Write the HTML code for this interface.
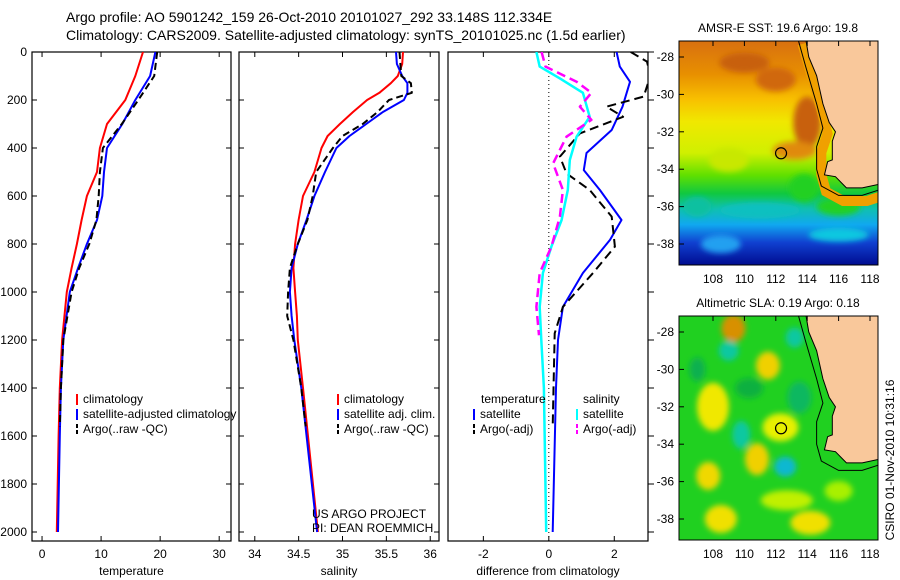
<!DOCTYPE html>
<html><head><meta charset="utf-8">
<style>
html,body{margin:0;padding:0;background:#fff;}
svg{display:block;font-family:"Liberation Sans",sans-serif;}
text{fill:#000;}
</style></head>
<body>
<svg id="fig" width="900" height="580" viewBox="0 0 900 580">
<defs>
<clipPath id="c1"><rect x="32" y="52" width="199" height="489"/></clipPath>
<clipPath id="c2"><rect x="239" y="52" width="200" height="489"/></clipPath>
<clipPath id="c3"><rect x="448" y="52" width="200" height="489"/></clipPath>
<clipPath id="cm1"><rect x="679" y="41" width="199" height="224"/></clipPath>
<clipPath id="cm2"><rect x="679" y="316" width="199" height="224"/></clipPath>
<linearGradient id="sstg" x1="0" y1="0" x2="0" y2="1">
<stop offset="0" stop-color="#d87010"/>
<stop offset="0.15" stop-color="#e89000"/>
<stop offset="0.26" stop-color="#f8c000"/>
<stop offset="0.36" stop-color="#f0e800"/>
<stop offset="0.5" stop-color="#d0f000"/>
<stop offset="0.6" stop-color="#60e000"/>
<stop offset="0.68" stop-color="#10c840"/>
<stop offset="0.75" stop-color="#10c0b0"/>
<stop offset="0.82" stop-color="#10a8f0"/>
<stop offset="0.9" stop-color="#1040d0"/>
<stop offset="1" stop-color="#000c90"/>
</linearGradient>
<filter id="blur"><feGaussianBlur stdDeviation="3"/></filter>
</defs>
<text x="66" y="22" font-size="14">Argo profile: AO 5901242_159 26-Oct-2010 20101027_292 33.148S 112.334E</text>
<text x="66" y="40" font-size="14">Climatology: CARS2009. Satellite-adjusted climatology: synTS_20101025.nc (1.5d earlier)</text>
<g id="panels"></g>
<g id="maps"></g>
</svg>
<script>
// ---- data ----
const depths = [0,100,200,300,400,500,600,700,800,900,1000,1200,1400,1600,2000];
const tClim = [17.1,15.8,14.1,11.0,9.8,9.3,7.6,6.7,5.9,5.0,4.2,3.4,3.0,2.8,2.5];
const tSat  = [19.2,18.3,15.8,13.6,11.0,10.5,10.2,9.3,7.6,6.1,4.7,3.6,3.2,3.0,2.7];
const tArgoDepths = [0,100,200,300,400,500,600,700,800,900,1000,1200,1400,1560];
const tArgo = [19.5,19.0,16.3,13.5,10.3,9.8,9.6,9.2,8.0,6.3,5.0,3.6,3.2,3.0];
const sDepths = [0,50,100,130,170,200,250,300,350,400,500,600,700,800,900,1000,1100,1200,1400,2000];
const sClim = [35.69,35.68,35.63,35.55,35.42,35.28,35.12,34.97,34.83,34.76,34.68,34.55,34.50,34.46,34.44,34.46,34.48,34.49,34.55,34.72];
const sSat  = [35.61,35.62,35.68,35.74,35.74,35.70,35.46,35.27,35.08,34.93,34.80,34.68,34.59,34.49,34.42,34.40,34.42,34.45,34.53,34.71];
const sArgoDepths = [0,50,100,130,170,200,250,300,350,400,500,600,700,800,900,1000,1100,1200,1400,1560];
const sArgo = [35.65,35.66,35.67,35.78,35.79,35.53,35.40,35.23,35.00,34.89,34.70,34.66,34.60,34.49,34.40,34.38,34.37,34.44,34.53,34.58];
const dtDepths = [0,61,124,228,325,421,492,575,700,783,921,1062,1200,1400,2000];
const dtSat = [2.07,2.17,2.48,2.25,1.92,1.15,1.07,1.56,2.22,1.87,1.04,0.43,0.28,0.22,0.12];
const dtArgoDepths = [0,40,100,186,228,270,339,436,506,575,686,811,921,1062,1172,1560];
const dtArgo = [2.5,3.0,3.1,2.9,1.76,2.27,0.95,0.34,0.54,1.25,1.92,2.02,1.35,0.43,0.18,0.12];
const dsDepths = [0,61,110,170,270,353,450,575,700,811,921,1062,1200,1400,2000];
const dsSat = [-0.38,-0.28,0.34,1.04,1.25,0.85,0.64,0.58,0.39,0.08,-0.18,-0.28,-0.23,-0.15,-0.08];
const dsArgoDepths = [0,61,124,170,228,283,353,464,575,686,811,921,1062,1180];
const dsArgo = [-0.22,-0.1,0.85,1.3,0.95,1.3,0.54,0.13,0.43,0.34,0.08,-0.28,-0.38,-0.3];
const yTicks = [0,200,400,600,800,1000,1200,1400,1600,1800,2000];
const tTicks = [0,10,20,30];
const sTicks = [34,34.5,35,35.5,36];
const sTickLabels = ["34","34.5","35","35.5","36"];
const dTicks = [-2,0,2];
const latTicks = [-28,-30,-32,-34,-36,-38];
const lonTicks = [108,110,112,114,116,118];
const argoPos = [112.334,-33.148];

const NS="http://www.w3.org/2000/svg";
function mk(tag,attrs,parent){const e=document.createElementNS(NS,tag);for(const k in attrs)e.setAttribute(k,attrs[k]);parent.appendChild(e);return e;}
const yD = d => 52 + d*0.24;
const panels = [
 {x0:32,x1:231,min:-1.7,max:32.0,ticks:tTicks,labels:tTicks.map(String),label:"temperature",clip:"c1",name:"temperature"},
 {x0:239,x1:439,min:33.82,max:36.1,ticks:sTicks,labels:sTickLabels,label:"salinity",clip:"c2",name:"salinity"},
 {x0:448,x1:648,min:-3.08,max:3.03,ticks:dTicks,labels:dTicks.map(String),label:"difference from climatology",clip:"c3",name:"difference"}
];
const G=document.getElementById('panels');
panels.forEach((p,i)=>{
  p.sx = v => p.x0 + (v-p.min)/(p.max-p.min)*(p.x1-p.x0);
  const g=mk('g',{},G);
  
  
  mk('rect',{x:p.x0,y:52,width:p.x1-p.x0,height:489,fill:'none',stroke:'#000','stroke-width':1.2},g);
  p.ticks.forEach((t,k)=>{
    const x=p.sx(t);
    mk('line',{x1:x,x2:x,y1:52,y2:57,stroke:'#000'},g);
    mk('line',{x1:x,x2:x,y1:541,y2:536,stroke:'#000'},g);
    const tl=mk('text',{x:x,y:558,'font-size':12,'text-anchor':'middle'},g);
    tl.textContent=p.labels[k];
    
    
  });
  yTicks.forEach(d=>{
    const y=yD(d);
    if(i<2){
      mk('line',{x1:p.x0,x2:p.x0+5,y1:y,y2:y,stroke:'#000'},g);
      mk('line',{x1:p.x1,x2:p.x1-5,y1:y,y2:y,stroke:'#000'},g);
    } else {
      mk('line',{x1:p.x1,x2:p.x1+6,y1:y,y2:y,stroke:'#000'},g);
    }
    if(i===0){
      const tl=mk('text',{x:27,y:y+4,'font-size':12,'text-anchor':'end'},g);
      tl.textContent=String(d);
      
      
    }
  });
  const xl=mk('text',{x:(p.x0+p.x1)/2,y:575,'font-size':12,'text-anchor':'middle'},g);
  xl.textContent=p.label;
  
  
});
function line(p,ds,vs,color,dash,w,name){
  const pts=ds.map((d,k)=>p.sx(vs[k]).toFixed(1)+','+yD(d).toFixed(1)).join(' ');
  const pl=mk('polyline',{points:pts,fill:'none',stroke:color,'stroke-width':w,'clip-path':'url(#'+p.clip+')','stroke-dasharray':dash||'none','stroke-linejoin':'round'},G);
  
  
}
const P=panels;
line(P[0],depths,tClim,'#f00',null,2,'temperature-climatology-line');
line(P[0],depths,tSat,'#00f',null,2,'temperature-satellite-line');
line(P[0],tArgoDepths,tArgo,'#000','7,4',2,'temperature-argo-line');
line(P[1],sDepths,sClim,'#f00',null,2,'salinity-climatology-line');
line(P[1],sDepths,sSat,'#00f',null,2,'salinity-satellite-line');
line(P[1],sArgoDepths,sArgo,'#000','7,4',2,'salinity-argo-line');
mk('line',{x1:P[2].sx(0),x2:P[2].sx(0),y1:52,y2:541,stroke:'#000','stroke-dasharray':'1,3'},G);
line(P[2],dtDepths,dtSat,'#00f',null,2,'temp-diff-satellite-line');
line(P[2],dtArgoDepths,dtArgo,'#000','9,5',2,'temp-diff-argo-line');
line(P[2],dsDepths,dsSat,'#0ff',null,2.5,'sal-diff-satellite-line');
line(P[2],dsArgoDepths,dsArgo,'#f0f','9,5',2.5,'sal-diff-argo-line');
function legend(x,y,color,dash,label,name){
  const g=mk('g',{},G);
  
  
  mk('line',{x1:x,x2:x,y1:y-9,y2:y+2,stroke:color,'stroke-width':2,'stroke-dasharray':dash||'none'},g);
  const t=mk('text',{x:x+6,y:y,'font-size':12},g);t.textContent=label;
}
legend(77,403,'#f00',null,'climatology','legend-climatology');
legend(77,418,'#00f',null,'satellite-adjusted climatology','legend-satellite');
legend(77,433,'#000','4,2','Argo(..raw -QC)','legend-argo');
legend(338,403,'#f00',null,'climatology','legend-sal-climatology');
legend(338,418,'#00f',null,'satellite adj. clim.','legend-sal-satellite');
legend(338,433,'#000','4,2','Argo(..raw -QC)','legend-sal-argo');
let t=mk('text',{x:481,y:403,'font-size':12},G);t.textContent='temperature';
t=mk('text',{x:583,y:403,'font-size':12},G);t.textContent='salinity';
legend(474,418,'#00f',null,'satellite','legend-diff-temp-satellite');
legend(474,433,'#000','4,2','Argo(-adj)','legend-diff-temp-argo');
legend(577,418,'#0ff',null,'satellite','legend-diff-sal-satellite');
legend(577,433,'#f0f','4,2','Argo(-adj)','legend-diff-sal-argo');
t=mk('text',{x:312,y:518,'font-size':12},G);t.textContent='US ARGO PROJECT';
t=mk('text',{x:312,y:532,'font-size':12},G);t.textContent='PI: DEAN ROEMMICH';

// ---- maps ----
const M=document.getElementById('maps');
const coast=[[113.9,-27],[114.1,-28],[114.6,-29],[115.0,-30.5],[115.4,-31.5],[115.8,-32],[115.6,-32.5],[115.6,-33.5],[115.3,-33.6],[115.1,-34.3],[115.8,-34.4],[116.5,-35],[117.5,-35],[118.6,-34.8],[118.6,-27]];
const contour=[[113.4,-27],[113.9,-28.5],[114.6,-30.5],[115.0,-31.8],[114.6,-32.8],[114.6,-34],[114.9,-34.9],[116,-35.4],[117.5,-35.4],[118.6,-35.1]];
function drawMap(top,clip,title,name,sst){
  const mx=lon=>713+(lon-108)*15.7;
  const my=lat=>top+16+(-28-lat)*18.7;
  const g=mk('g',{},M);
  
  
  const inner=mk('g',{'clip-path':'url(#'+clip+')'},g);
  if(sst){
    mk('rect',{x:679,y:top,width:199,height:224,fill:'url(#sstg)'},inner);
    const bl=mk('g',{filter:'url(#blur)'},inner);
    [[110,-28.3,25,10,'#c86010'],[112,-29.2,20,12,'#d06810'],[114,-31.5,14,26,'#c86010'],[113.2,-33,22,9,'#e08a10'],[109,-33.5,20,12,'#c8e800'],[113.8,-35,15,14,'#20d020'],[111,-36.2,40,8,'#10c0c0'],[116,-36,22,9,'#20d020'],[116,-37.5,30,7,'#10c8e0'],[108.5,-38,20,9,'#20a0f0'],[107,-36,14,10,'#10c0a0']].forEach(b=>mk('ellipse',{cx:mx(b[0]),cy:my(b[1]),rx:b[2],ry:b[3],fill:b[4]},bl));
    mk('polyline',{points:contour.map(c=>mx(c[0]+0.3)+','+my(c[1]-0.3)).join(' '),fill:'none',stroke:'#f0a000','stroke-width':10},inner);
  } else {
    mk('rect',{x:679,y:top,width:199,height:224,fill:'#20d020'},inner);
    const bl=mk('g',{filter:'url(#blur)'},inner);
    [[109.3,-27.8,12,14,'#d89000'],[111.5,-29.8,12,14,'#f0d000'],[108,-32,16,24,'#f0e800'],[110.8,-34.8,12,16,'#f0d000'],[107.7,-35.7,12,14,'#f0d800'],[112.3,-33.1,18,14,'#e8f000'],[108.5,-38,16,14,'#f0e000'],[114.2,-38.2,20,12,'#f0e000'],[112.7,-37,26,10,'#c0f000'],[116,-36.5,14,10,'#a8f000'],[109,-29,10,10,'#10c8a0'],[113.2,-28.3,9,10,'#10c8a0'],[109.8,-33.5,9,14,'#10c8a0'],[112.6,-35.2,11,10,'#10b8d0'],[113.5,-31.5,12,16,'#10b860'],[110.3,-31,14,10,'#10b040'],[107,-30,8,12,'#10b050']].forEach(b=>mk('ellipse',{cx:mx(b[0]),cy:my(b[1]),rx:b[2],ry:b[3],fill:b[4]},bl));
  }
  const land=mk('polygon',{points:coast.map(c=>mx(c[0])+','+my(c[1])).join(' '),fill:'#f9c89b',stroke:'#000','stroke-width':1},inner);
  
  
  mk('polyline',{points:contour.map(c=>mx(c[0])+','+my(c[1])).join(' '),fill:'none',stroke:'#000','stroke-width':1},inner);
  const ap=mk('circle',{cx:mx(argoPos[0]),cy:my(argoPos[1]),r:5.5,fill:'none',stroke:'#000','stroke-width':1.2},g);
  
  
  mk('rect',{x:679,y:top,width:199,height:224,fill:'none',stroke:'#000'},g);
  latTicks.forEach(l=>{const y=my(l);mk('line',{x1:679,x2:684,y1:y,y2:y,stroke:'#000'},g);
    const tl=mk('text',{x:674,y:y+4,'font-size':12,'text-anchor':'end'},g);tl.textContent=String(l);});
  lonTicks.forEach(l=>{const x=mx(l);mk('line',{x1:x,x2:x,y1:top,y2:top+5,stroke:'#000'},g);
    const tl=mk('text',{x:x,y:top+242,'font-size':12,'text-anchor':'middle'},g);tl.textContent=String(l);});
  const tt=mk('text',{x:778,y:top-9,'font-size':12,'text-anchor':'middle'},g);tt.textContent=title;
  
  
}
drawMap(41,'cm1','AMSR-E SST: 19.6 Argo: 19.8','sst-map',true);
drawMap(316,'cm2','Altimetric SLA: 0.19 Argo: 0.18','sla-map',false);
const cs=mk('text',{x:0,y:0,'font-size':12,'text-anchor':'middle',transform:'translate(894,460) rotate(-90)'},M);
cs.textContent='CSIRO 01-Nov-2010 10:31:16';


</script>
</body></html>
